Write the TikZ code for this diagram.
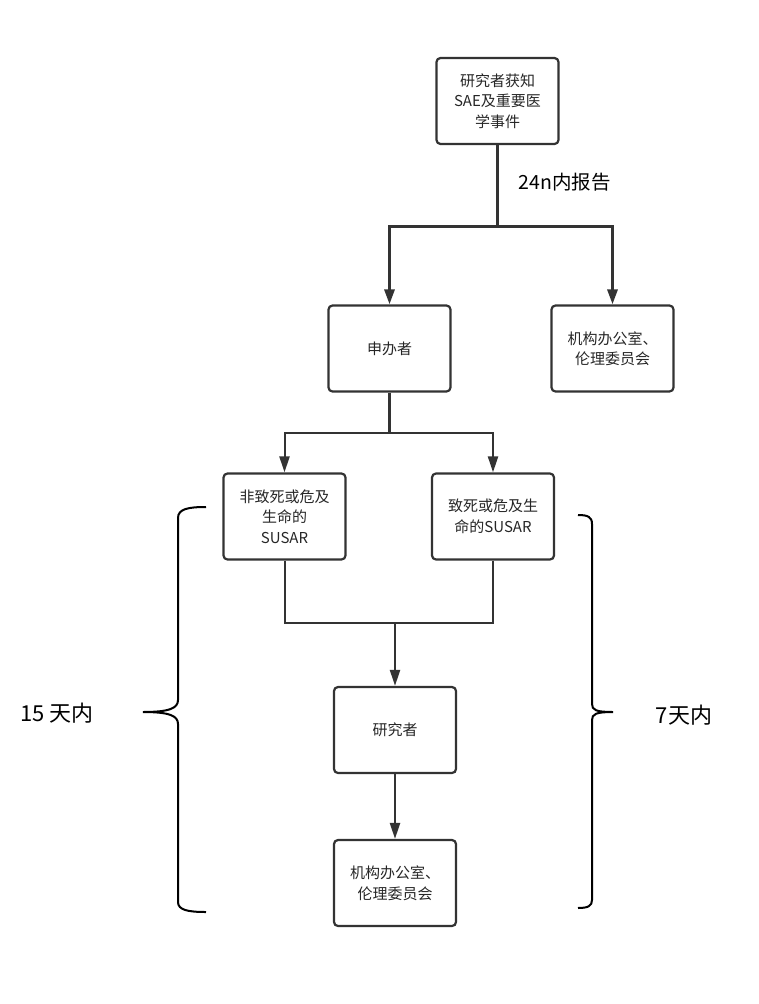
\documentclass[tikz,border=0pt]{standalone}
\usepackage{fontspec}
\setmainfont{Noto Sans CJK SC}
\usetikzlibrary{arrows.meta, positioning}
\definecolor{boxline}{RGB}{51,51,51}
\tikzset{
  basebox/.style={
    rectangle, rounded corners=4pt, draw=boxline, line width=2.2pt, align=center,
    text=black!85, font=\fontsize{15}{20.5}\selectfont, inner sep=2pt
  },
  stepbox/.style={basebox, minimum width=122pt, minimum height=86pt},
  arrow/.style={-{Triangle[width=10pt,length=16pt]}, line width=2pt, color=boxline},
  thickarrow/.style={-{Triangle[width=10pt,length=15pt]}, line width=3pt, color=boxline},
  thickline/.style={line width=3pt, color=boxline},
  thinline/.style={line width=2pt, color=boxline},
  bracepath/.style={line width=2pt, color=black},
  daylabel/.style={font=\fontsize{22}{26}\selectfont}
}
\begin{document}
\begin{tikzpicture}[x=1pt, y=-1pt]
\useasboundingbox (0,0) rectangle (759,1004);
% boxes
\node[stepbox] (aware) at (497.5,101) {研究者获知\\SAE及重要医\\学事件};
\node[stepbox] (sponsor) at (389.5,348.5) {申办者};
\node[stepbox] (office) at (612.5,348.5) {机构办公室、\\伦理委员会};
\node[stepbox] (nonfatal) at (284.5,516.5) {非致死或危及\\生命的\\SUSAR};
\node[stepbox] (fatal) at (493,516.5) {致死或危及生\\命的SUSAR};
\node[stepbox] (researcher) at (395,730) {研究者};
\node[stepbox] (office2) at (395,883) {机构办公室、\\伦理委员会};
\node[anchor=west, font=\fontsize{19.5}{22}\selectfont] (within24) at (515,182) {24n内报告};
% connectors
\coordinate (split) at (497.5,226);
\draw[thickline] (aware) -- (split);
\draw[thickarrow] (split) -| (sponsor.north);
\draw[thickarrow] (split) -| (office.north);
\coordinate (fork) at (389.5,433);
\draw[thickline] (sponsor) -- (fork);
\draw[arrow] (fork) -| (nonfatal.north);
\draw[arrow] (fork) -| (fatal.north);
\coordinate (merge) at (395,623);
\draw[thinline] (nonfatal.south) |- (merge);
\draw[thinline] (fatal.south) |- (merge);
\draw[arrow] (merge) -- (researcher);
\draw[arrow, line width=2.4pt] (researcher) -- (office2);
% braces
\draw[bracepath] (206,507) .. controls (188,507) and (178,509) .. (178,518) -- (178,700)
  .. controls (178,708) and (170,712) .. (143,712)
  .. controls (170,712) and (178,716) .. (178,724) -- (178,902)
  .. controls (178,910) and (188,912) .. (206,912);
\draw[bracepath] (578,515) .. controls (588,515) and (592,517) .. (592,524) -- (592,704)
  .. controls (592,710) and (596,712) .. (613,712)
  .. controls (596,712) and (592,714) .. (592,720) -- (592,900)
  .. controls (592,906) and (588,908) .. (578,908);
\node[daylabel] (days15) at (57,713) {15 天内};
\node[daylabel] (days7) at (684,715) {7天内};
\end{tikzpicture}
\end{document}
